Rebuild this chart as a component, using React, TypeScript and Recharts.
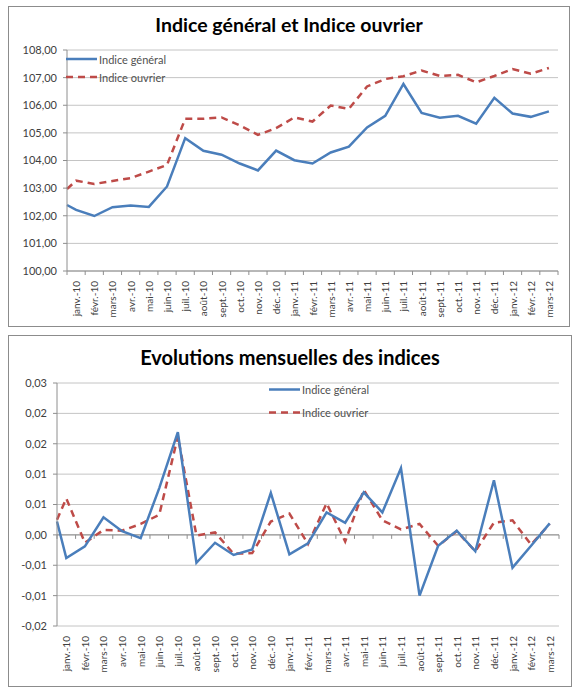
import { LineChart, Line, XAxis, YAxis, CartesianGrid, ReferenceLine } from "recharts";

const font = "Lato, 'Liberation Sans', sans-serif";
const blue = "#4a7ebb";
const red = "#be4b48";
const gridColor = "#c4c4c4";
const axisColor = "#8e8e8e";
const textColor = "#404040";

const months = [
  "janv.-10", "févr.-10", "mars-10", "avr.-10", "mai-10", "juin-10", "juil.-10", "août-10", "sept.-10",
  "oct.-10", "nov.-10", "déc.-10", "janv.-11", "févr.-11", "mars-11", "avr.-11", "mai-11", "juin-11",
  "juil.-11", "août-11", "sept.-11", "oct.-11", "nov.-11", "déc.-11", "janv.-12", "févr.-12", "mars-12",
];

// ─── Indices (top chart) ─────────────────────────────────────────────────
// the lines start on the value axis, before janv.-10
const indexStart = [102.39, 102.97];
const generalIndex = [
  102.21, 101.99, 102.31, 102.37, 102.32, 103.06, 104.81, 104.35, 104.21, 103.89, 103.64, 104.36, 104.01,
  103.89, 104.29, 104.5, 105.2, 105.62, 106.77, 105.72, 105.55, 105.62, 105.33, 106.27, 105.7, 105.58, 105.78,
];
const ouvrierIndex = [
  103.27, 103.15, 103.26, 103.36, 103.6, 103.84, 105.51, 105.51, 105.56, 105.27, 104.93, 105.17, 105.56,
  105.41, 105.99, 105.87, 106.68, 106.95, 107.05, 107.26, 107.06, 107.1, 106.83, 107.06, 107.31, 107.14, 107.35,
];
const indexTicks = [100, 101, 102, 103, 104, 105, 106, 107, 108];

// ─── Monthly evolutions (bottom chart) ───────────────────────────────────
const evolStart = [0.0022, 0.0025];
const evolGeneral = [
  -0.0038, -0.0019, 0.0029, 0.0006, -0.00055, 0.0077, 0.0169, -0.0046, -0.0013, -0.0033, -0.0024, 0.0069, -0.0032,
  -0.0014, 0.0037, 0.002, 0.007, 0.0037, 0.011, -0.01, -0.0018, 0.0007, -0.0027, 0.009, -0.0054, -0.0018, 0.0019,
];
const evolOuvrier = [
  0.006, -0.0013, 0.0008, 0.0007, 0.0018, 0.0033, 0.0162, -0.0001, 0.0004, -0.0031, -0.003, 0.0022, 0.0035,
  -0.0015, 0.0052, -0.0011, 0.0074, 0.0024, 0.0009, 0.0018, -0.0018, 0.0006, -0.0027, 0.002, 0.0024, -0.0016, 0.0018,
];
const evolTicks = [-0.015, -0.01, -0.005, 0, 0.005, 0.01, 0.015, 0.02, 0.025];
const evolTickLabels = ["-0,02", "-0,01", "-0,01", "0,00", "0,01", "0,01", "0,02", "0,02", "0,03"];

const seriesNames = ["Indice général", "Indice ouvrier"];

// category boundaries at whole numbers, month centres at .5
const monthTicks = Array.from({ length: months.length * 2 + 1 }, (_, i) => i / 2);

function buildRows(start: number[], general: number[], ouvrier: number[]) {
  return [
    { x: 0, general: start[0], ouvrier: start[1] },
    ...months.map((m, i) => ({ x: i + 0.5, month: m, general: general[i], ouvrier: ouvrier[i] })),
  ];
}

const indexRows = buildRows(indexStart, generalIndex, ouvrierIndex);
const evolRows = buildRows(evolStart, evolGeneral, evolOuvrier);

function MonthTick(props: any) {
  const { x, y, payload, marks } = props;
  const v = payload.value;
  if (Number.isInteger(v)) {
    return marks ? <line x1={x} x2={x} y1={y} y2={y + 4} stroke={axisColor} /> : <g />;
  }
  const ty = y + 10;
  return (
    <text
      x={x}
      y={ty}
      transform={`rotate(-90 ${x} ${ty})`}
      textAnchor="end"
      dominantBaseline="central"
      fontSize={10}
      fontFamily={font}
      fill={textColor}
    >
      {months[Math.floor(v)]}
    </text>
  );
}

// horizontal axis crossing at 0, with its tick marks
function ZeroAxis(props: any) {
  const { x1, x2, y1 } = props;
  const step = (x2 - x1) / months.length;
  return (
    <g>
      <line x1={x1} x2={x2} y1={y1} y2={y1} stroke={axisColor} />
      {Array.from({ length: months.length + 1 }, (_, i) => (
        <line key={i} x1={x1 + i * step} x2={x1 + i * step} y1={y1} y2={y1 + 4} stroke={axisColor} />
      ))}
    </g>
  );
}

function LegendBox({ left, top, rowHeight }: { left: number; top: number; rowHeight: number }) {
  return (
    <div style={{ position: "absolute", left, top, fontFamily: font, fontSize: 11, color: "#505050" }}>
      {seriesNames.map((name, i) => (
        <div key={name} style={{ display: "flex", alignItems: "center", height: rowHeight }}>
          <svg width={31} height={rowHeight} style={{ display: "block" }}>
            <line
              x1={0}
              x2={31}
              y1={rowHeight / 2}
              y2={rowHeight / 2}
              stroke={i === 0 ? blue : red}
              strokeWidth={2.5}
              strokeDasharray={i === 0 ? undefined : "7 5"}
            />
          </svg>
          <span style={{ marginLeft: 2, lineHeight: 1 }}>{name}</span>
        </div>
      ))}
    </div>
  );
}

const boxStyle = {
  position: "absolute" as const,
  border: "1px solid #8c8c8c",
  boxSizing: "border-box" as const,
  background: "#fff",
};

function Title({ text, top, size }: { text: string; top: number; size: number }) {
  return (
    <div
      style={{
        position: "absolute",
        left: 0,
        right: 0,
        top,
        textAlign: "center",
        fontFamily: font,
        fontWeight: "bold",
        fontSize: size,
        lineHeight: `${size}px`,
        color: "#000",
      }}
    >
      {text}
    </div>
  );
}

const yTick = { fill: textColor, fontSize: 11, fontFamily: font };

function IndexChart() {
  return (
    <div style={{ ...boxStyle, left: 8, top: 6, width: 562, height: 321 }}>
      <LineChart width={560} height={319} data={indexRows} margin={{ top: 43, right: 11, bottom: 0, left: 0 }}>
        <CartesianGrid vertical={false} stroke={gridColor} />
        <XAxis
          type="number"
          dataKey="x"
          domain={[0, months.length]}
          ticks={monthTicks}
          interval={0}
          height={55}
          tickSize={0}
          tickMargin={0}
          tickLine={false}
          axisLine={{ stroke: axisColor }}
          tick={(p: any) => <MonthTick {...p} marks />}
        />
        <YAxis
          domain={[100, 108]}
          ticks={indexTicks}
          interval={0}
          width={58}
          tickSize={4}
          tickMargin={6}
          axisLine={{ stroke: axisColor }}
          tickLine={{ stroke: axisColor }}
          tick={yTick}
          tickFormatter={(v: number) => v.toFixed(2).replace(".", ",")}
        />
        <Line type="linear" dataKey="ouvrier" stroke={red} strokeWidth={2.5} strokeDasharray="7 5" dot={false} isAnimationActive={false} />
        <Line type="linear" dataKey="general" stroke={blue} strokeWidth={2.5} dot={false} isAnimationActive={false} />
      </LineChart>
      <Title text="Indice général et Indice ouvrier" top={8} size={19.5} />
      <LegendBox left={57} top={43} rowHeight={18} />
    </div>
  );
}

function EvolChart() {
  return (
    <div style={{ ...boxStyle, left: 8, top: 335, width: 564, height: 352 }}>
      <LineChart width={562} height={350} data={evolRows} margin={{ top: 47, right: 12, bottom: 0, left: 0 }}>
        <CartesianGrid vertical={false} stroke={gridColor} />
        <XAxis
          type="number"
          dataKey="x"
          domain={[0, months.length]}
          ticks={monthTicks}
          interval={0}
          height={60}
          tickSize={0}
          tickMargin={0}
          tickLine={false}
          axisLine={false}
          tick={(p: any) => <MonthTick {...p} />}
        />
        <YAxis
          domain={[-0.015, 0.025]}
          ticks={evolTicks}
          interval={0}
          width={48}
          tickSize={4}
          tickMargin={6}
          axisLine={{ stroke: axisColor }}
          tickLine={{ stroke: axisColor }}
          tick={yTick}
          tickFormatter={(v: number, i: number) => evolTickLabels[i]}
        />
        <ReferenceLine y={0} shape={(p: any) => <ZeroAxis {...p} />} />
        <Line type="linear" dataKey="ouvrier" stroke={red} strokeWidth={2.5} strokeDasharray="7 5" dot={false} isAnimationActive={false} />
        <Line type="linear" dataKey="general" stroke={blue} strokeWidth={2.5} dot={false} isAnimationActive={false} />
      </LineChart>
      <Title text="Evolutions mensuelles des indices" top={11} size={20} />
      <LegendBox left={260} top={42} rowHeight={23} />
    </div>
  );
}

export default function App() {
  return (
    <div style={{ position: "absolute", left: 0, top: 0, width: 586, height: 700, background: "#fff" }}>
      <IndexChart />
      <EvolChart />
    </div>
  );
}
